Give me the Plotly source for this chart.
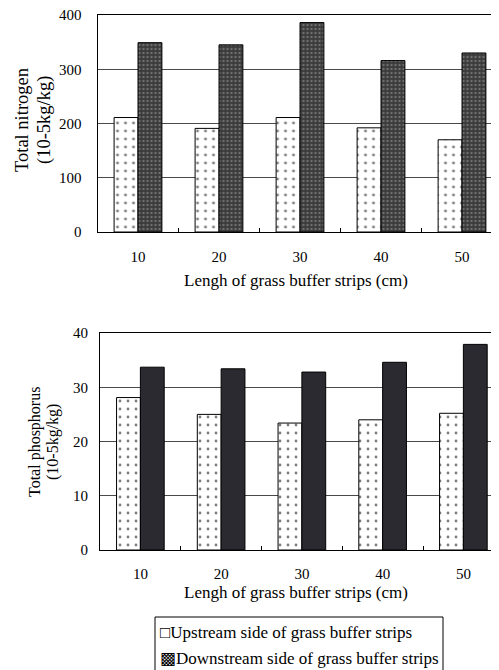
import plotly.graph_objects as go

categories = ["10", "20", "30", "40", "50"]
nitrogen_upstream = [211, 191, 211, 192, 170]
nitrogen_downstream = [349, 345, 386, 316, 330]
phosphorus_upstream = [28.1, 25.0, 23.4, 24.0, 25.2]
phosphorus_downstream = [33.7, 33.4, 32.8, 34.6, 37.9]
nitrogen_ticks = [0, 100, 200, 300, 400]
phosphorus_ticks = [0, 10, 20, 30, 40]
legend_labels = ["Upstream side of grass buffer strips", "Downstream side of grass buffer strips"]
x_title = "Lengh of grass buffer strips (cm)"
y_title_top = ["Total nitrogen", "(10-5kg/kg)"]
y_title_bottom = ["Total phosphorus", "(10-5kg/kg)"]

W, H = 499, 670
OFF = 8  # page body margin in the browser
FONT = "Liberation Serif"

fig = go.Figure()

up_marker = dict(color="white", line=dict(color="black", width=1),
                 pattern=dict(shape=".", fgcolor="black", bgcolor="white", size=8, solidity=0.1))
down_marker_top = dict(color="#3a3a3a", line=dict(color="black", width=1),
                       pattern=dict(shape=".", fgcolor="#a0a0a0", bgcolor="#3a3a3a", size=4, solidity=0.3))
down_marker_bot = dict(color="#2b2a31", line=dict(color="black", width=1))

fig.add_trace(go.Bar(x=categories, y=nitrogen_upstream, marker=up_marker, name=legend_labels[0],
                     xaxis="x", yaxis="y", showlegend=False))
fig.add_trace(go.Bar(x=categories, y=nitrogen_downstream, marker=down_marker_top, name=legend_labels[1],
                     xaxis="x", yaxis="y", showlegend=False))
fig.add_trace(go.Bar(x=categories, y=phosphorus_upstream, marker=up_marker, name=legend_labels[0],
                     xaxis="x2", yaxis="y2", showlegend=False))
fig.add_trace(go.Bar(x=categories, y=phosphorus_downstream, marker=down_marker_bot, name=legend_labels[1],
                     xaxis="x2", yaxis="y2", showlegend=False))


def px_x(p):
    return (p - OFF) / W


def px_y(p):
    return 1 - (p - OFF) / H


tickfont = dict(family=FONT, size=15, color="black")

xcommon = dict(type="category", showline=True, linecolor="black", linewidth=1, mirror=True,
               ticks="inside", tickson="boundaries", ticklen=4, tickcolor="black",
               tickfont=tickfont, showgrid=False, fixedrange=True, automargin=False,
               ticklabeloverflow="allow")
ycommon = dict(showline=True, linecolor="black", linewidth=1, ticks="", showgrid=True,
               gridcolor="#4a4a4a", gridwidth=1, tickfont=tickfont,
               zeroline=False, fixedrange=True, automargin=False, ticklabeloverflow="allow")

RIGHT = W + OFF
fig.update_layout(
    width=W, height=H, margin=dict(l=0, r=0, t=0, b=0, autoexpand=False),
    paper_bgcolor="white", plot_bgcolor="white",
    barmode="group", bargap=0.41, bargroupgap=0,
    showlegend=False,
    xaxis=dict(**xcommon, domain=[px_x(97.5), 1], range=[-0.5, -0.5 + (RIGHT - 97.5) / 81],
               anchor="y", ticklabelstandoff=11),
    yaxis=dict(**ycommon, domain=[px_y(232), px_y(15)], range=[0, 400], tickvals=nitrogen_ticks,
               anchor="x", ticklabelstandoff=12),
    xaxis2=dict(**xcommon, domain=[px_x(100), 1], range=[-0.5, -0.5 + (RIGHT - 100) / 80.75],
                anchor="y2", ticklabelstandoff=10),
    yaxis2=dict(**ycommon, domain=[px_y(550), px_y(333)], range=[0, 40], tickvals=phosphorus_ticks,
                anchor="x2", ticklabelstandoff=8),
)


def ann(text, x, y, size, angle=0, xanchor="center"):
    fig.add_annotation(text=text, x=px_x(x), y=px_y(y), xref="paper", yref="paper",
                       showarrow=False, font=dict(family=FONT, size=size, color="black"),
                       textangle=angle, xanchor=xanchor, yanchor="middle")


ann(x_title, 296, 280, 17)
ann(x_title, 296, 592, 17)
ann(y_title_top[0], 22, 120, 18.5, -90)
ann(y_title_top[1], 45, 120, 18.5, -90)
ann(y_title_bottom[0], 35, 442, 16, -90)
ann(y_title_bottom[1], 53, 442, 16, -90)

# legend box
fig.add_shape(type="rect", xref="paper", yref="paper", x0=px_x(155), x1=px_x(443), y0=px_y(673), y1=px_y(617),
              line=dict(color="black", width=1), fillcolor="white")
ann("□" + legend_labels[0], 158, 632, 17, xanchor="left")
ann("▩" + legend_labels[1], 158, 658, 17, xanchor="left")

fig.write_html("out.html")
